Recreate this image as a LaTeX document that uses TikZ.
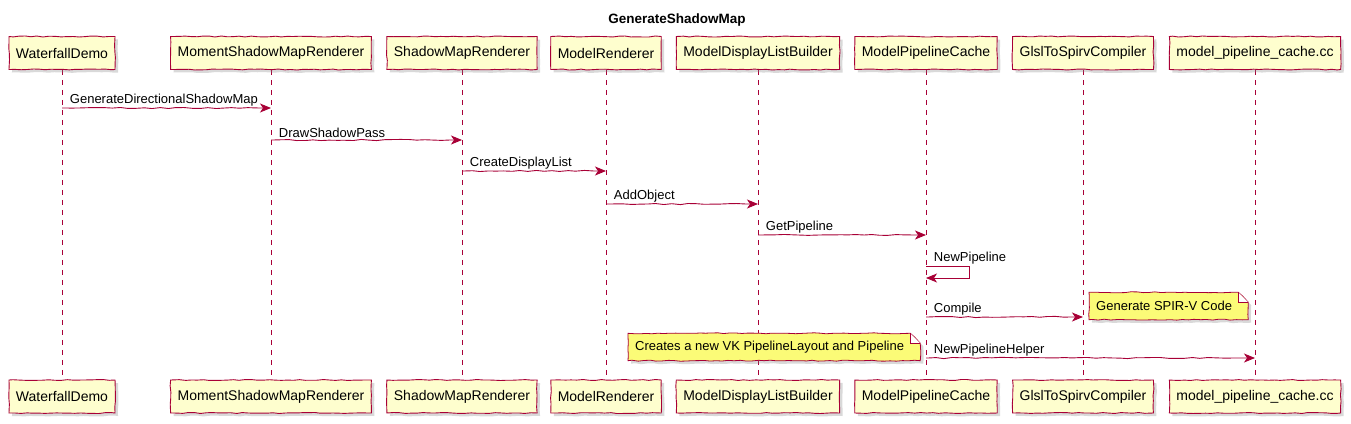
\documentclass[tikz,border=0pt]{standalone}
\usepackage{fontspec}
\setmainfont{Liberation Sans}
\usetikzlibrary{arrows.meta,shadows,decorations.pathmorphing,backgrounds,calc}

\definecolor{umlred}{HTML}{A80036}
\definecolor{umlbox}{HTML}{FEFECE}
\definecolor{umlnote}{HTML}{FBFB77}

\begin{document}
\begin{tikzpicture}[x=1pt,y=-1pt,
    actor/.style={draw=umlred, fill=umlbox, line width=0.9pt, minimum height=33pt, inner xsep=7pt,
      font=\fontsize{14}{16}\selectfont, decorate,
      decoration={random steps,segment length=6pt,amplitude=0.5pt},
      drop shadow={shadow xshift=3pt,shadow yshift=-3pt,opacity=0.3}},
    lifeline/.style={umlred, line width=0.8pt, dash pattern=on 5pt off 5pt},
    msg/.style={umlred, line width=0.9pt, -{Stealth[length=11pt,width=9pt,inset=3pt]}, decorate,
      decoration={random steps,segment length=8pt,amplitude=0.6pt,pre length=2pt,post length=12pt}},
    msgtext/.style={font=\fontsize{13}{15}\selectfont, anchor=south west, inner sep=1.5pt, xshift=6pt, text=black},
    notetext/.style={font=\fontsize{13}{15}\selectfont, minimum height=27pt, inner xsep=7pt, anchor=west},
    notebox/.style={draw=umlred, fill=umlnote, line width=0.8pt, decorate,
      decoration={random steps,segment length=6pt,amplitude=0.5pt},
      drop shadow={shadow xshift=3pt,shadow yshift=-3pt,opacity=0.3}},
  ]
  \pgfmathsetseed{7}
  \useasboundingbox (0,0) rectangle (1351,423);

  \node[font=\bfseries\fontsize{13.5}{15}\selectfont] (title) at (677,20) {GenerateShadowMap};

  % participants, top and bottom
  \foreach \n/\t/\x in {wd/WaterfallDemo/62,
                         msr/MomentShadowMapRenderer/271,
                         smr/ShadowMapRenderer/462,
                         mr/ModelRenderer/606,
                         dlb/ModelDisplayListBuilder/758,
                         mpc/ModelPipelineCache/926,
                         gsc/GlslToSpirvCompiler/1083,
                         mpcc/model\_pipeline\_cache.cc/1255} {
    \node[actor] (\n) at (\x,53) {\t};
    \node[actor] (\n-b) at (\x,396.5) {\t};
    \begin{scope}[on background layer]
      \draw[lifeline] (\n.south) -- (\n-b.north);
    \end{scope}
  }

  % calls
  \draw[msg] (wd |- 0,108) -- node[msgtext, at start]{GenerateDirectionalShadowMap} (msr |- 0,108);
  \draw[msg] (msr |- 0,140) -- node[msgtext, at start]{DrawShadowPass} (smr |- 0,140);
  \draw[msg] (smr |- 0,171) -- node[msgtext, at start]{CreateDisplayList} (mr |- 0,171);
  \draw[msg] (mr |- 0,204) -- node[msgtext, at start]{AddObject} (dlb |- 0,204);
  \draw[msg] (dlb |- 0,235) -- node[msgtext, at start]{GetPipeline} (mpc |- 0,235);
  \draw[umlred, line width=0.9pt, -{Stealth[length=11pt,width=9pt,inset=3pt]}]
    (mpc |- 0,266) -- node[msgtext, at start]{NewPipeline} ++(43,0) -- ++(0,12) -- (mpc |- 0,278);
  \draw[msg] (mpc |- 0,317) -- node[msgtext, at start]{Compile} (gsc |- 0,317);
  \draw[msg] (mpc |- 0,358) -- node[msgtext, at start]{NewPipelineHelper} (mpcc |- 0,358);

  % notes
  \node[notetext] (spirv) at (1089,306) {Generate SPIR-V Code};
  \node[notetext] (layout) at (628,347) {Creates a new VK PipelineLayout and Pipeline};
  \begin{scope}[on background layer]
    \foreach \n in {spirv,layout} {
      \draw[notebox] (\n.north west) -- ($(\n.north east)+(-1,0)$) -- ($(\n.north east)+(9,10)$)
        -- ($(\n.south east)+(9,0)$) -- (\n.south west) -- cycle;
      \draw[umlred, line width=0.8pt, fill=white] ($(\n.north east)+(-1,0)$) -- ++(0,10) -- ++(10,0);
    }
  \end{scope}
\end{tikzpicture}
\end{document}
